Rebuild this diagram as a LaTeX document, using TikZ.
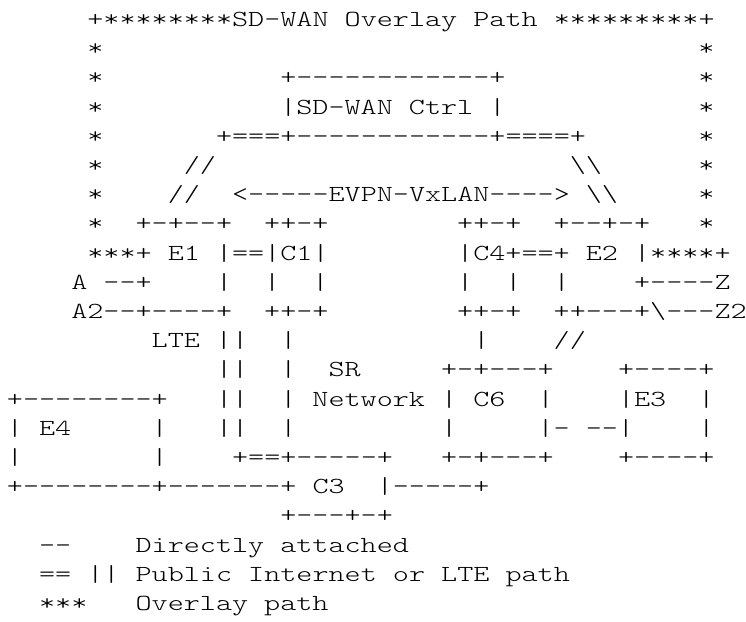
\documentclass[tikz,border=0pt]{standalone}
\usepackage{fontspec}
\setmonofont{Latin Modern Mono Light}[FakeStretch=1.332]
\usepackage{tikz}

\begin{document}
\begin{tikzpicture}[
  x=16.08pt, y=-29.2pt,
  ascii/.style={font=\ttfamily\fontsize{23}{29.2}\selectfont, anchor=base west,
    inner sep=0pt, outer sep=0pt, xshift=6.96pt, yshift=2.7pt},
]
  \useasboundingbox[fill=white] (0pt,0pt) rectangle (746pt,-621pt);
  % Overlay path frame with controller
  \node[ascii] (title)   at (5,1)  {+********SD-WAN Overlay Path *********+};
  \node[ascii] (lst2)    at (5,2)  {*};
  \node[ascii] (rst2)    at (43,2) {*};
  \node[ascii] (lst3)    at (5,3)  {*};
  \node[ascii] (ctrltop) at (17,3) {+------------+};
  \node[ascii] (rst3)    at (43,3) {*};
  \node[ascii] (lst4)    at (5,4)  {*};
  \node[ascii] (ctrl)    at (17,4) {|SD-WAN Ctrl |};
  \node[ascii] (rst4)    at (43,4) {*};
  \node[ascii] (lst5)    at (5,5)  {*};
  \node[ascii] (ctrlbot) at (13,5) {+===+------------+====+};
  \node[ascii] (rst5)    at (43,5) {*};
  \node[ascii] (lst6)    at (5,6)  {*};
  \node[ascii] (lslash6) at (11,6) {//};
  \node[ascii] (rslash6) at (35,6) {\textbackslash\textbackslash};
  \node[ascii] (rst6)    at (43,6) {*};
  \node[ascii] (lst7)    at (5,7)  {*};
  \node[ascii] (lslash7) at (10,7) {//};
  \node[ascii] (evpn)    at (14,7) {<-----EVPN-VxLAN----> \textbackslash\textbackslash};
  \node[ascii] (rst7)    at (43,7) {*};
  % Edge and core routers
  \node[ascii] (lst8)    at (5,8)  {*};
  \node[ascii] (etop)    at (8,8)  {+-+--+};
  \node[ascii] (ctop)    at (16,8) {++-+};
  \node[ascii] (cftop)   at (28,8) {++-+};
  \node[ascii] (eetop)   at (34,8) {+--+-+};
  \node[ascii] (rst8)    at (43,8) {*};
  \node[ascii] (eone)    at (5,9)  {***+ E1 |==|C1|};
  \node[ascii] (etwo)    at (28,9) {|C4+==+ E2 |****+};
  \node[ascii] (siteA)   at (4,10) {A --+};
  \node[ascii] (bar10a)  at (13,10) {|};
  \node[ascii] (bar10b)  at (16,10) {|};
  \node[ascii] (bar10c)  at (19,10) {|};
  \node[ascii] (bar10d)  at (28,10) {|};
  \node[ascii] (bar10e)  at (31,10) {|};
  \node[ascii] (bar10f)  at (34,10) {|};
  \node[ascii] (siteZ)   at (39,10) {+----Z};
  \node[ascii] (siteAtwo) at (4,11) {A2--+----+};
  \node[ascii] (cbot)    at (16,11) {++-+};
  \node[ascii] (cfbot)   at (28,11) {++-+};
  \node[ascii] (siteZtwo) at (34,11) {++---+\textbackslash---Z2};
  \node[ascii] (lte)     at (9,12) {LTE ||};
  \node[ascii] (bar12a)  at (17,12) {|};
  \node[ascii] (bar12b)  at (29,12) {|};
  \node[ascii] (slash12) at (34,12) {//};
  % SR network
  \node[ascii] (dbar13)  at (13,13) {||};
  \node[ascii] (bar13)   at (17,13) {|};
  \node[ascii] (sr)      at (20,13) {SR};
  \node[ascii] (csixtop) at (27,13) {+-+---+};
  \node[ascii] (ethtop)  at (38,13) {+----+};
  \node[ascii] (efotop)  at (0,14) {+--------+};
  \node[ascii] (dbar14)  at (13,14) {||};
  \node[ascii] (network) at (17,14) {| Network | C6};
  \node[ascii] (bar14a)  at (33,14) {|};
  \node[ascii] (ethree)  at (38,14) {|E3};
  \node[ascii] (bar14b)  at (43,14) {|};
  \node[ascii] (efour)   at (0,15) {| E4};
  \node[ascii] (bar15a)  at (9,15) {|};
  \node[ascii] (dbar15)  at (13,15) {||};
  \node[ascii] (bar15b)  at (17,15) {|};
  \node[ascii] (bar15c)  at (27,15) {|};
  \node[ascii] (link)    at (33,15) {|- --|};
  \node[ascii] (bar15d)  at (43,15) {|};
  \node[ascii] (bar16a)  at (0,16) {|};
  \node[ascii] (bar16b)  at (9,16) {|};
  \node[ascii] (cthrtop) at (14,16) {+==+-----+};
  \node[ascii] (csixbot) at (27,16) {+-+---+};
  \node[ascii] (ethbot)  at (38,16) {+----+};
  \node[ascii] (cthree)  at (0,17) {+--------+-------+ C3};
  \node[ascii] (cthrlnk) at (23,17) {|-----+};
  \node[ascii] (cthrbot) at (17,18) {+---+-+};
  % Legend
  \node[ascii] (keydash) at (2,19) {--};
  \node[ascii] (txtdash) at (8,19) {Directly attached};
  \node[ascii] (keypub)  at (2,20) {== || Public Internet or LTE path};
  \node[ascii] (keystar) at (2,21) {***};
  \node[ascii] (txtstar) at (8,21) {Overlay path};
\end{tikzpicture}
\end{document}
